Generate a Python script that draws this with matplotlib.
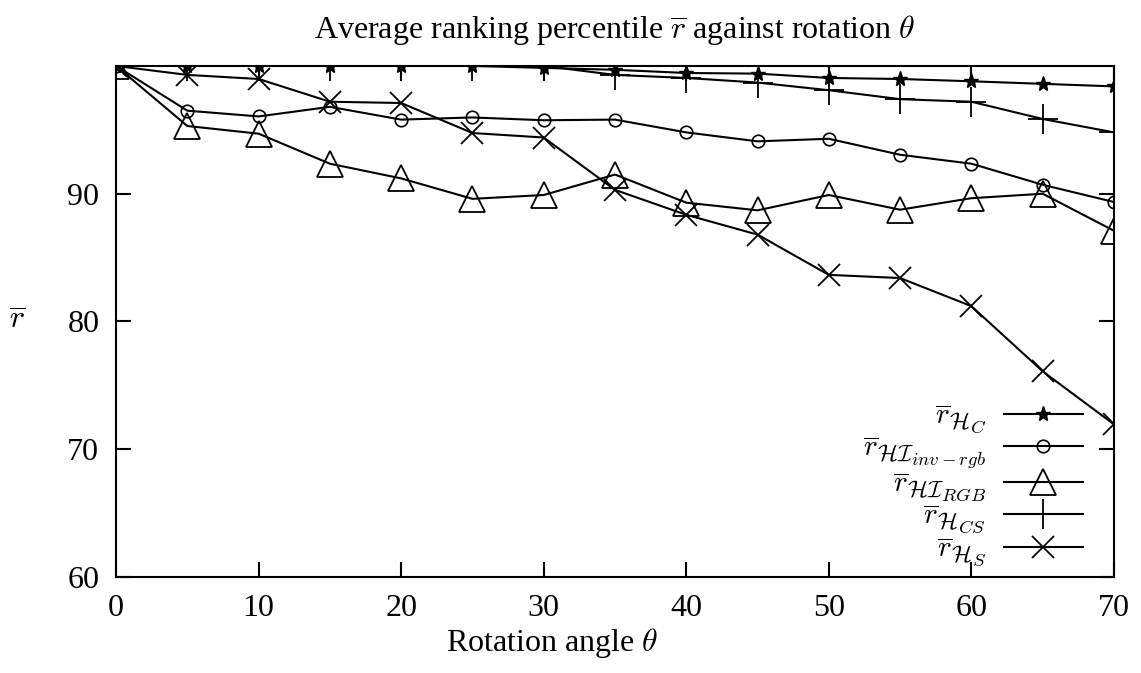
import numpy as np
import matplotlib
matplotlib.use("Agg")
from matplotlib import pyplot as plt
import matplotlib._mathtext as mt

# rotation angles (degrees)
angles = [0, 5, 10, 15, 20, 25, 30, 35, 40, 45, 50, 55, 60, 65, 70]

# average ranking percentile for each descriptor
r_hc = [100, 100, 100, 100, 100, 100, 99.85, 99.7, 99.45, 99.4, 99.06, 98.98, 98.8, 98.6, 98.4]
r_hi_inv = [100, 96.5, 96.05, 96.8, 95.8, 95.97, 95.75, 95.8, 94.8, 94.1, 94.3, 93.05, 92.35, 90.7, 89.35]
r_hi_rgb = [100, 95.3, 94.7, 92.35, 91.2, 89.6, 89.9, 91.5, 89.3, 88.7, 89.9, 88.75, 89.65, 90.0, 87.1]
r_hcs = [100, 100, 100, 100, 100, 100, 100, 99.3, 99.06, 98.7, 98.1, 97.4, 97.2, 95.85, 94.8]
r_hs = [100, 99.3, 98.98, 97.2, 97.1, 94.75, 94.4, 90.3, 88.35, 86.8, 83.65, 83.4, 81.2, 76.1, 71.95]

labels = [r'$\overline{r}_{\mathcal{H}_C}$',
          r'$\overline{r}_{\mathcal{H}\mathcal{I}_{inv-rgb}}$',
          r'$\overline{r}_{\mathcal{H}\mathcal{I}_{RGB}}$',
          r'$\overline{r}_{\mathcal{H}_{CS}}$',
          r'$\overline{r}_{\mathcal{H}_S}$']

# subscripts in the original are not shrunk as much
mt.SHRINK_FACTOR = 0.8

plt.rcParams['font.family'] = 'Liberation Serif'
plt.rcParams['mathtext.fontset'] = 'cm'
plt.rcParams['font.size'] = 23

fig = plt.figure(figsize=(11.41, 6.73), dpi=100)
ax = fig.add_axes([0.1017, 0.1426, 0.8746, 0.7594])

lw = 1.5
ax.plot(angles, r_hc, color='k', lw=lw, marker='*', ms=11, mfc='k', mec='k', label=labels[0])
ax.plot(angles, r_hi_inv, color='k', lw=lw, marker='o', ms=9, mfc='none', mec='k', mew=1.2, label=labels[1])
ax.plot(angles, r_hi_rgb, color='k', lw=lw, marker='^', ms=19, mfc='none', mec='k', mew=1.3, label=labels[2])
ax.plot(angles, r_hcs, color='k', lw=lw, marker='+', ms=22, mec='k', mew=1.3, label=labels[3])
ax.plot(angles, r_hs, color='k', lw=lw, marker='x', ms=16, mec='k', mew=1.3, label=labels[4])

ax.set_xlim(0, 70)
ax.set_ylim(60, 100)
ax.set_xticks(np.arange(0, 71, 10))
ax.set_yticks([60, 70, 80, 90])
ax.tick_params(direction='in', length=11, width=1.5, top=True, right=True, pad=12)
for s in ax.spines.values():
    s.set_linewidth(1.5)

ax.set_title(r'Average ranking percentile $\overline{r}$ against rotation $\theta$', pad=20, fontsize=23)
ax.set_xlabel(r'Rotation angle $\theta$')
ax.xaxis.set_label_coords(0.437, -0.096)
ax.set_ylabel(r'$\overline{r}$', rotation=0, labelpad=36, va='center')

ax.legend(loc='lower right', bbox_to_anchor=(0.989, -0.022), frameon=False,
          markerfirst=False, handlelength=2.7, labelspacing=0.0, fontsize=21,
          borderpad=0.2, handletextpad=0.6)

fig.savefig('out.png', dpi=100)
